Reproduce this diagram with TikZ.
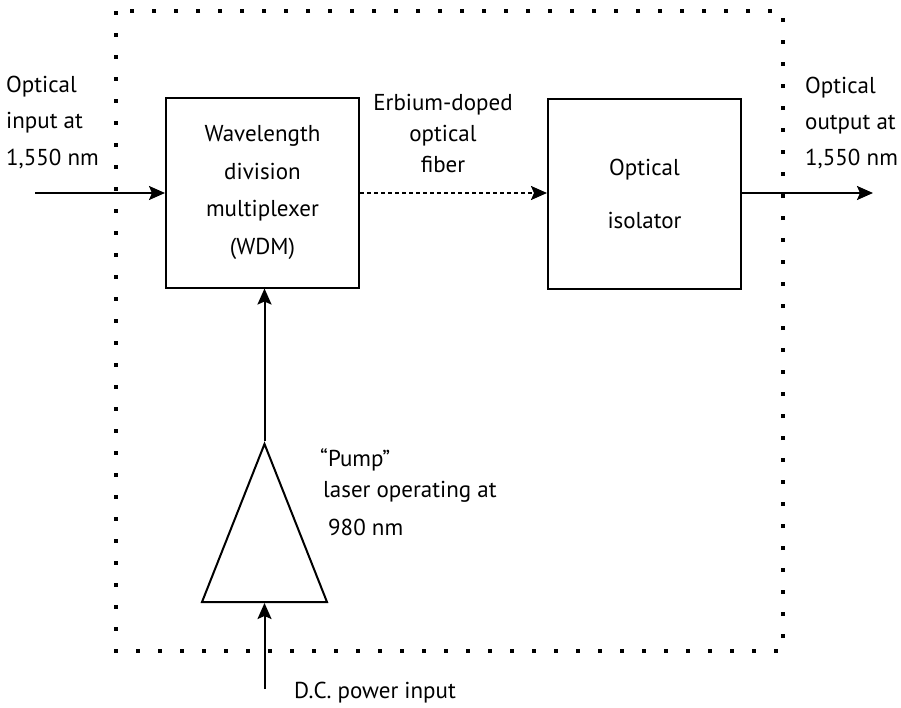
\documentclass[tikz,border=0pt]{standalone}
\usepackage{fontspec}
\setmainfont{PT Sans}
\usepackage{tikz}
\usetikzlibrary{shapes.geometric, arrows.meta, calc}

\tikzset{
  blockbox/.style={draw, line width=2pt, minimum width=193pt, minimum height=190pt,
    align=center, inner sep=0pt, font=\fontsize{23}{37.5}\selectfont},
  pumpbox/.style={draw, line width=2pt, isosceles triangle, isosceles triangle stretches,
    shape border rotate=90, minimum width=125pt, minimum height=158pt, inner sep=0pt},
  flow/.style={line width=2pt, -{Stealth[length=16pt, width=14pt, inset=3pt]}},
  lbl/.style={inner sep=0pt, align=left},
}

\begin{document}
\begin{tikzpicture}[x=1pt, y=-1pt]

      \useasboundingbox (0,0) rectangle (901,707);

      % amplifier housing
      \draw[line width=4pt, dash pattern=on 4pt off 18pt] (116,11) rectangle (783,651);

      \node[blockbox] (wdm) at (262.5,192.5) {Wavelength\\division\\multiplexer\\(WDM)};
      \node[blockbox] (iso) at (644.5,194) {Optical\\[16pt]isolator};
      \node[pumpbox, anchor=south] (pump) at (264.5,603) {};

      \coordinate (inL)  at (35,193);
      \coordinate (outR) at (873,193);
      \coordinate (dcIn) at (264.5,689);

      \draw[flow] (inL) -- (inL -| wdm.west);
      \draw[flow, dash pattern=on 4.3pt off 2.7pt] (wdm.east |- inL) -- (iso.west |- inL);
      \draw[flow] (iso.east |- outR) -- (outR);
      \draw[flow] (pump.apex) -- (wdm.south -| pump.apex);
      \draw[flow] (dcIn) -- (pump.south);

      % last baseline of each label sits at the given y
      \node[lbl, anchor=base west, font=\fontsize{23}{36.5}\selectfont] (inlbl) at (6,165)
        {Optical\\input at\\1,550 nm};
      \node[lbl, anchor=base west, font=\fontsize{23}{36}\selectfont] (outlbl) at (805,165)
        {Optical\\output at\\1,550 nm};
      \node[lbl, anchor=base, align=center, font=\fontsize{23}{31}\selectfont] (fiberlbl) at (443,172)
        {Erbium-doped\\optical\\fiber};
      \node[lbl, anchor=base west, font=\fontsize{23}{31}\selectfont] (pumplbl) at (320,535)
        {``Pump''\\\hspace*{3pt}laser operating at\\[7pt]\hspace*{8pt}980 nm};
      \node[lbl, anchor=base west, font=\fontsize{23}{31}\selectfont] (dclbl) at (294,698)
        {D.C. power input};

    \end{tikzpicture}
\end{document}
